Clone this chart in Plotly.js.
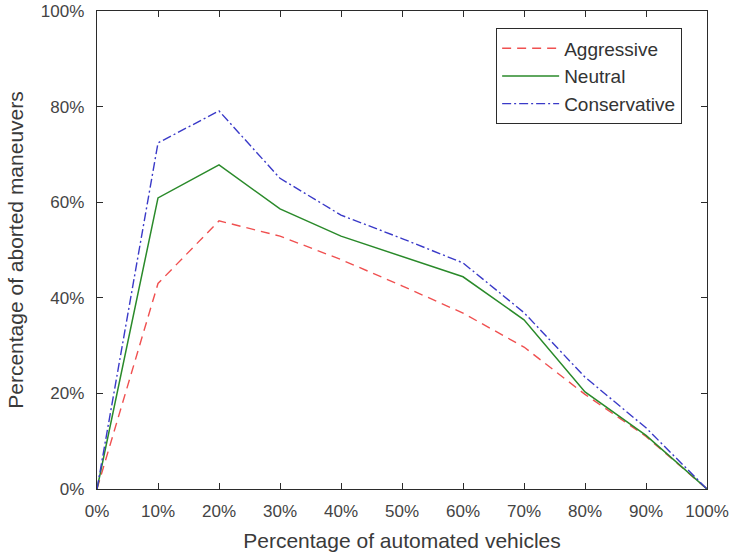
<!DOCTYPE html>
<html>
<head>
<meta charset="utf-8">
<script src="https://cdn.plot.ly/plotly-3.0.1.min.js"></script>
<style>html,body{margin:0;padding:0;background:#fff;}</style>
</head>
<body>
<div id="chart" style="width:735px;height:558px;"></div>
<script>
var xPct = [0, 10, 20, 30, 40, 50, 60, 70, 80, 90, 100];
var aggressive   = [0, 43.0, 56.1, 52.9, 48.0, 42.5, 36.8, 29.7, 19.8, 11.0, 0];
var neutral      = [0, 60.9, 67.8, 58.6, 52.9, 48.7, 44.4, 35.4, 20.3, 11.2, 0];
var conservative = [0, 72.4, 79.1, 65.0, 57.3, 52.4, 47.3, 36.9, 23.4, 12.8, 0];
var seriesNames = ["Aggressive", "Neutral", "Conservative"];
var xTicks = [0, 10, 20, 30, 40, 50, 60, 70, 80, 90, 100];
var xTickText = ["0%", "10%", "20%", "30%", "40%", "50%", "60%", "70%", "80%", "90%", "100%"];
var yTicks = [0, 20, 40, 60, 80, 100];
var yTickText = ["0%", "20%", "40%", "60%", "80%", "100%"];

var traces = [
  {x: xPct, y: aggressive, name: seriesNames[0], mode: "lines",
   line: {color: "#f05050", width: 1.4, dash: "9px,6px"}},
  {x: xPct, y: neutral, name: seriesNames[1], mode: "lines",
   line: {color: "#2a8a2a", width: 1.5}},
  {x: xPct, y: conservative, name: seriesNames[2], mode: "lines",
   line: {color: "#3a3ac8", width: 1.4, dash: "9px,3px,2px,3px"}}
];

var fontFam = "Liberation Sans, Arial, sans-serif";
var axisCommon = {
  showline: true, mirror: "ticks", linecolor: "#2b2b2b", linewidth: 1.3,
  ticks: "inside", ticklen: 6, tickcolor: "#2b2b2b", tickwidth: 1,
  showgrid: false, zeroline: false,
  tickfont: {family: fontFam, size: 17, color: "#444444"},
  tickmode: "array"
};

var layout = {
  width: 735, height: 558,
  margin: {l: 97, r: 28, t: 11, b: 69},
  paper_bgcolor: "#ffffff", plot_bgcolor: "#ffffff",
  showlegend: true,
  xaxis: Object.assign({}, axisCommon, {
    range: [0, 100], tickvals: xTicks, ticktext: xTickText, ticklabelstandoff: 6,
    title: {text: "Percentage of automated vehicles", standoff: 13,
      font: {family: fontFam, size: 21, color: "#3a3a3a"}}
  }),
  yaxis: Object.assign({}, axisCommon, {
    range: [0, 100], tickvals: yTicks, ticktext: yTickText, ticklabelstandoff: 8,
    title: {text: "Percentage of aborted maneuvers", standoff: 11,
      font: {family: fontFam, size: 21, color: "#3a3a3a"}}
  }),
  legend: {
    x: 0.654, y: 0.964, xanchor: "left", yanchor: "top",
    bgcolor: "#ffffff", bordercolor: "#2b2b2b", borderwidth: 1.2,
    itemwidth: 57, tracegroupgap: 0,
    font: {family: fontFam, size: 19, color: "#333333"}
  }
};

Plotly.newPlot("chart", traces, layout, {displayModeBar: false, staticPlot: true});
</script>
</body>
</html>
